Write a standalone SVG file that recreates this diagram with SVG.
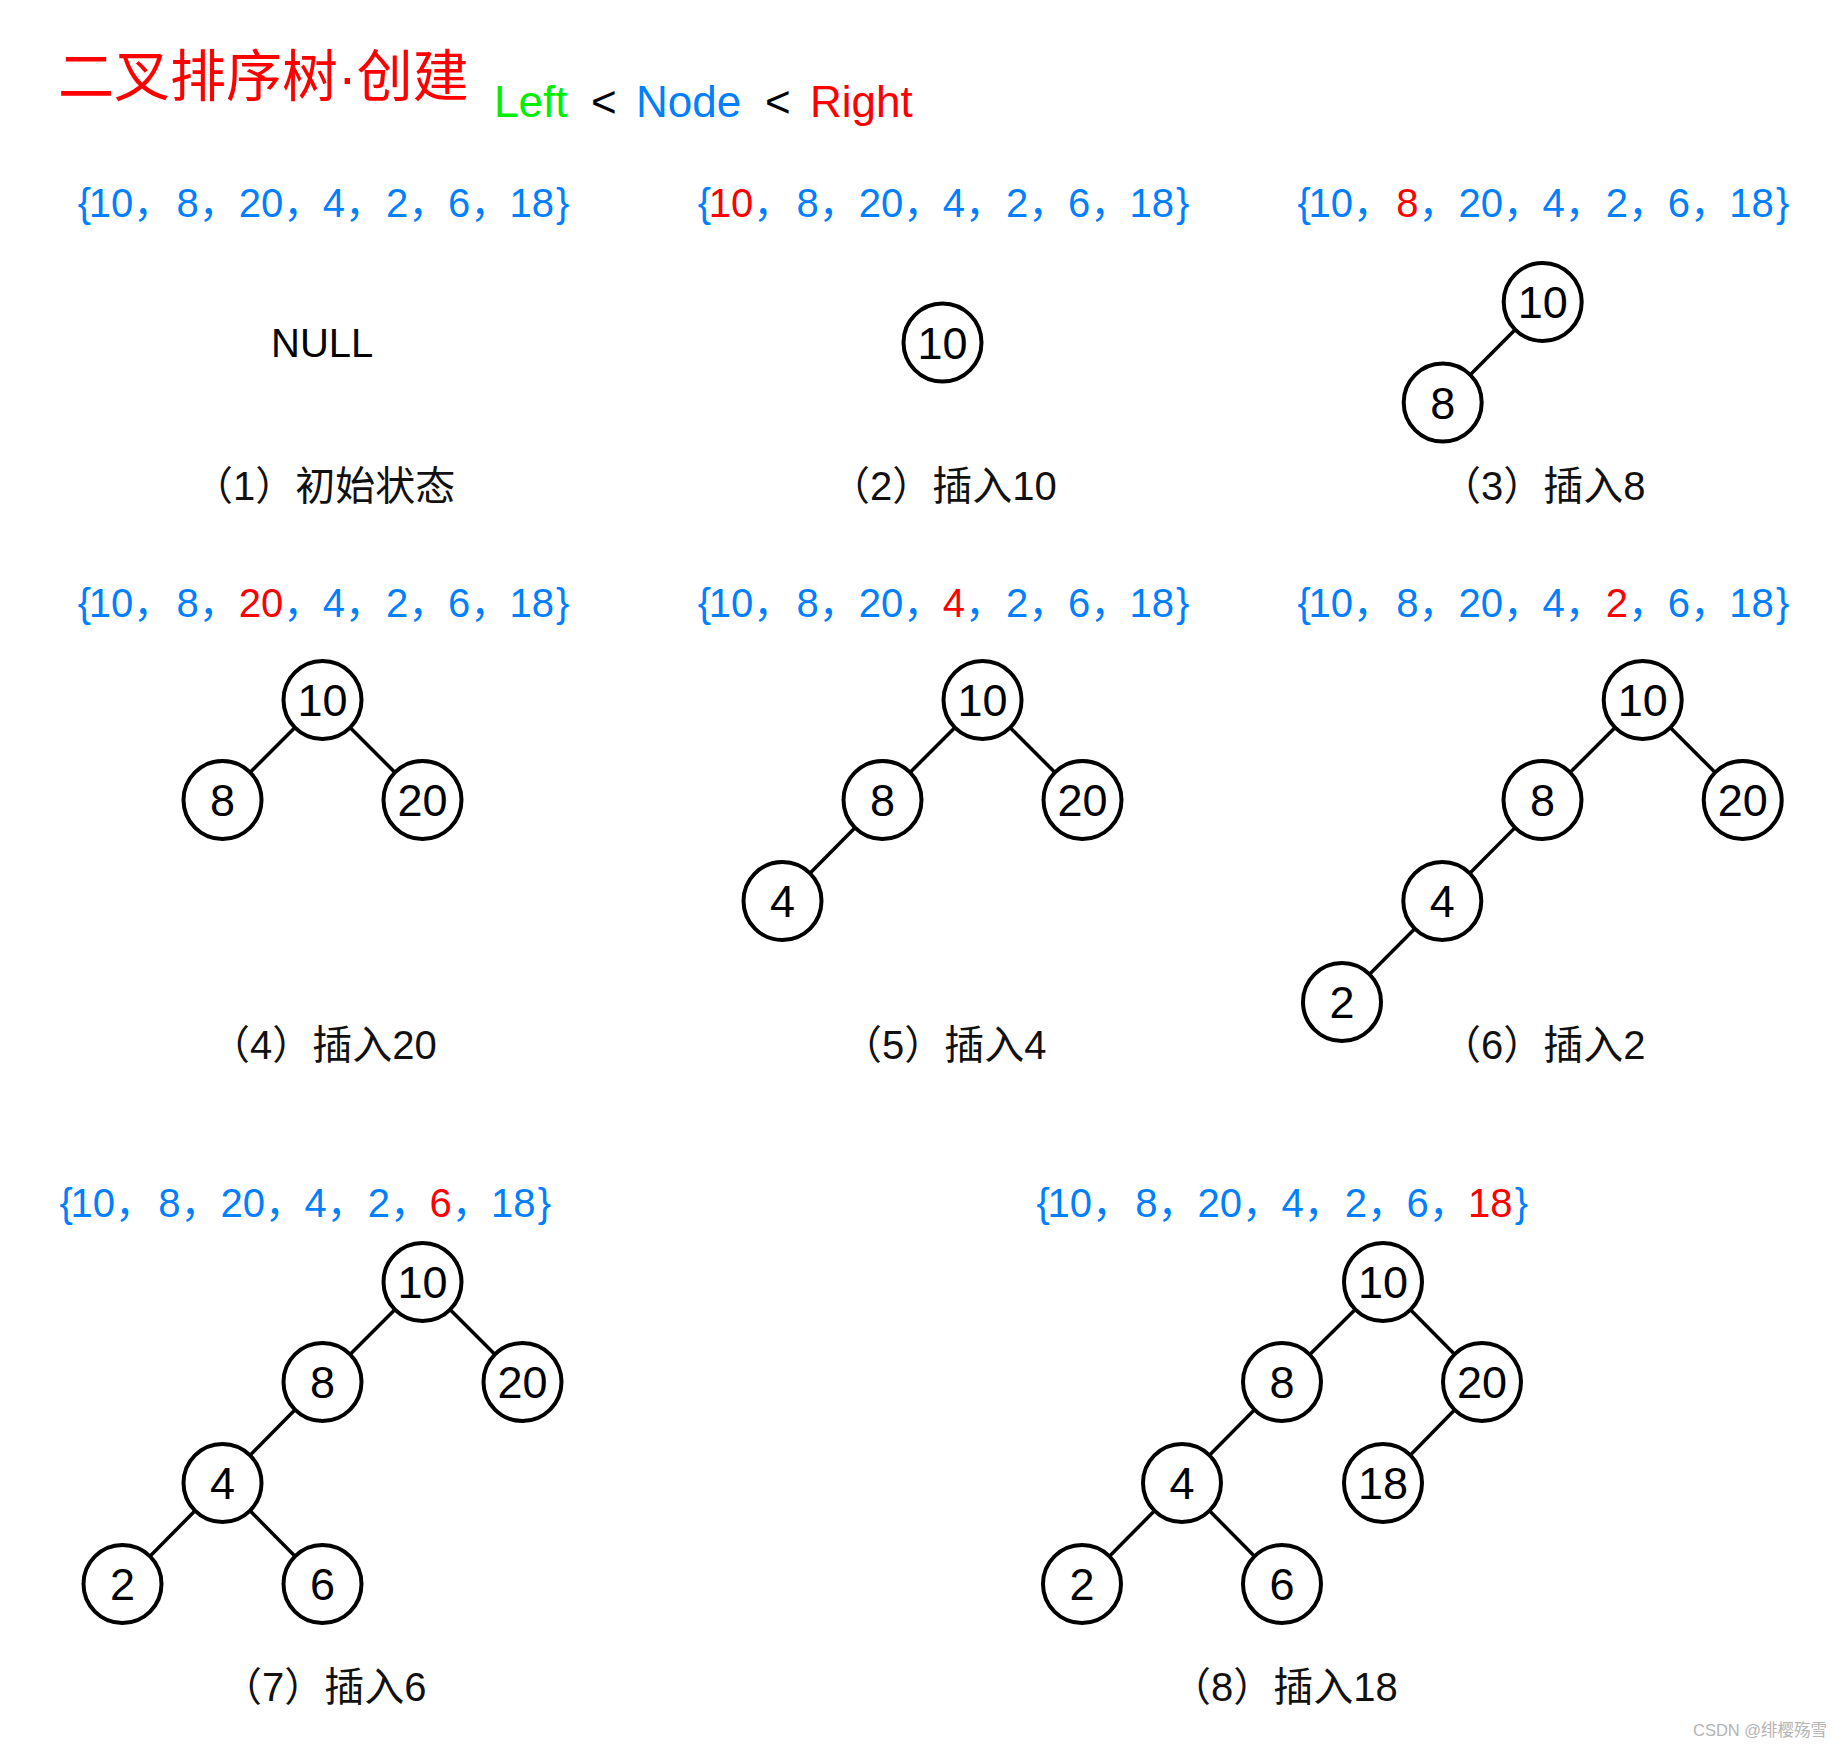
<svg xmlns="http://www.w3.org/2000/svg" width="1844" height="1748" viewBox="0 0 1844 1748">
<style>
.title{font-family:"Noto Sans CJK SC","Liberation Sans",sans-serif;font-size:56px;fill:#ff0000}
.dot{font-family:"Liberation Sans",sans-serif}
.rule{font-family:"Liberation Sans","Noto Sans CJK SC",sans-serif;font-size:44px}
.seq{font-family:"Liberation Sans","Noto Sans CJK SC",sans-serif;font-size:40px;fill:#0080ff}
.r{fill:#ff0000}
.g{fill:#00ee00}
.k{fill:#000000}
.b{fill:#0080ff}
.cap{font-family:"Liberation Sans","Noto Sans CJK SC",sans-serif;font-size:40px;fill:#111}
.null{font-family:"Liberation Sans",sans-serif;font-size:40px;fill:#000}
.node circle{fill:#fff;stroke:#000;stroke-width:4}
.node text{font-family:"Liberation Sans",sans-serif;font-size:45px;text-anchor:middle;fill:#000}
.edges line{stroke:#000;stroke-width:3.5}
.wm{font-family:"Liberation Sans","Noto Sans CJK SC",sans-serif;font-size:16.5px;fill:#b4b4b4}
</style>
<rect width="1844" height="1748" fill="#fff"/>

<text class="title" x="58" y="96">二叉排序树<tspan class="dot">·</tspan>创建</text>
<text class="rule" y="117"><tspan class="g" x="494">Left</tspan><tspan class="k" x="591">&lt;</tspan><tspan class="b" x="636">Node</tspan><tspan class="k" x="765">&lt;</tspan><tspan class="r" x="810">Right</tspan></text>

<!-- sequences -->
<text class="seq" y="217"><tspan x="77.8">{</tspan><tspan x="88.7">10</tspan>，<tspan x="176.5">8</tspan>，<tspan x="238.7">20</tspan>，<tspan x="322.7">4</tspan>，<tspan x="386">2</tspan>，<tspan x="447.9">6</tspan>，<tspan x="509.4">18</tspan><tspan x="556.1">}</tspan></text>
<text class="seq" y="217"><tspan x="697.8">{</tspan><tspan class="r" x="708.7">10</tspan>，<tspan x="796.5">8</tspan>，<tspan x="858.7">20</tspan>，<tspan x="942.7">4</tspan>，<tspan x="1006">2</tspan>，<tspan x="1067.9">6</tspan>，<tspan x="1129.4">18</tspan><tspan x="1176.1">}</tspan></text>
<text class="seq" y="217"><tspan x="1297.6">{</tspan><tspan x="1308.5">10</tspan>，<tspan class="r" x="1396.3">8</tspan>，<tspan x="1458.5">20</tspan>，<tspan x="1542.5">4</tspan>，<tspan x="1605.8">2</tspan>，<tspan x="1667.7">6</tspan>，<tspan x="1729.2">18</tspan><tspan x="1775.9">}</tspan></text>
<text class="seq" y="617"><tspan x="77.8">{</tspan><tspan x="88.7">10</tspan>，<tspan x="176.5">8</tspan>，<tspan class="r" x="238.7">20</tspan>，<tspan x="322.7">4</tspan>，<tspan x="386">2</tspan>，<tspan x="447.9">6</tspan>，<tspan x="509.4">18</tspan><tspan x="556.1">}</tspan></text>
<text class="seq" y="617"><tspan x="697.8">{</tspan><tspan x="708.7">10</tspan>，<tspan x="796.5">8</tspan>，<tspan x="858.7">20</tspan>，<tspan class="r" x="942.7">4</tspan>，<tspan x="1006">2</tspan>，<tspan x="1067.9">6</tspan>，<tspan x="1129.4">18</tspan><tspan x="1176.1">}</tspan></text>
<text class="seq" y="617"><tspan x="1297.6">{</tspan><tspan x="1308.5">10</tspan>，<tspan x="1396.3">8</tspan>，<tspan x="1458.5">20</tspan>，<tspan x="1542.5">4</tspan>，<tspan class="r" x="1605.8">2</tspan>，<tspan x="1667.7">6</tspan>，<tspan x="1729.2">18</tspan><tspan x="1775.9">}</tspan></text>
<text class="seq" y="1217"><tspan x="59.5">{</tspan><tspan x="70.4">10</tspan>，<tspan x="158.2">8</tspan>，<tspan x="220.4">20</tspan>，<tspan x="304.4">4</tspan>，<tspan x="367.7">2</tspan>，<tspan class="r" x="429.6">6</tspan>，<tspan x="491.1">18</tspan><tspan x="537.8">}</tspan></text>
<text class="seq" y="1217"><tspan x="1036.5">{</tspan><tspan x="1047.4">10</tspan>，<tspan x="1135.2">8</tspan>，<tspan x="1197.4">20</tspan>，<tspan x="1281.4">4</tspan>，<tspan x="1344.7">2</tspan>，<tspan x="1406.6">6</tspan>，<tspan class="r" x="1468.1">18</tspan><tspan x="1514.8">}</tspan></text>

<text class="null" x="271" y="357">NULL</text>

<!-- connectors -->
<g class="edges" id="connectors">
  <line x1="1542.7" y1="302" x2="1442.7" y2="402.5"/>
  <line x1="322.5" y1="700" x2="222.5" y2="800"/>
  <line x1="322.5" y1="700" x2="422.5" y2="800"/>
  <line x1="982.5" y1="700" x2="882.5" y2="800"/>
  <line x1="982.5" y1="700" x2="1082.5" y2="800"/>
  <line x1="882.5" y1="800" x2="782.5" y2="901"/>
  <line x1="1642.7" y1="700" x2="1542.5" y2="800"/>
  <line x1="1642.7" y1="700" x2="1742.7" y2="800"/>
  <line x1="1542.5" y1="800" x2="1442.3" y2="901"/>
  <line x1="1442.3" y1="901" x2="1342" y2="1002"/>
  <line x1="422.5" y1="1282" x2="322.5" y2="1382"/>
  <line x1="422.5" y1="1282" x2="522.5" y2="1382"/>
  <line x1="322.5" y1="1382" x2="222.5" y2="1483"/>
  <line x1="222.5" y1="1483" x2="122.5" y2="1584"/>
  <line x1="222.5" y1="1483" x2="322.5" y2="1584"/>
  <line x1="1383" y1="1282" x2="1282" y2="1382"/>
  <line x1="1383" y1="1282" x2="1482" y2="1382"/>
  <line x1="1282" y1="1382" x2="1182" y2="1483"/>
  <line x1="1482" y1="1382" x2="1383" y2="1483"/>
  <line x1="1182" y1="1483" x2="1082" y2="1584"/>
  <line x1="1182" y1="1483" x2="1282" y2="1584"/>
</g>

<!-- panel 2 -->
<g class="node" id="p2-n10"><circle cx="942.5" cy="342.5" r="39"/><text x="942.5" y="358.5">10</text></g>
<!-- panel 3 -->
<g class="node" id="p3-n10"><circle cx="1542.7" cy="302" r="39"/><text x="1542.7" y="318">10</text></g>
<g class="node" id="p3-n8"><circle cx="1442.7" cy="402.5" r="39"/><text x="1442.7" y="418.5">8</text></g>
<!-- panel 4 -->
<g class="node" id="p4-n10"><circle cx="322.5" cy="700" r="39"/><text x="322.5" y="716">10</text></g>
<g class="node" id="p4-n8"><circle cx="222.5" cy="800" r="39"/><text x="222.5" y="816">8</text></g>
<g class="node" id="p4-n20"><circle cx="422.5" cy="800" r="39"/><text x="422.5" y="816">20</text></g>
<!-- panel 5 -->
<g class="node" id="p5-n10"><circle cx="982.5" cy="700" r="39"/><text x="982.5" y="716">10</text></g>
<g class="node" id="p5-n8"><circle cx="882.5" cy="800" r="39"/><text x="882.5" y="816">8</text></g>
<g class="node" id="p5-n20"><circle cx="1082.5" cy="800" r="39"/><text x="1082.5" y="816">20</text></g>
<g class="node" id="p5-n4"><circle cx="782.5" cy="901" r="39"/><text x="782.5" y="917">4</text></g>
<!-- panel 6 -->
<g class="node" id="p6-n10"><circle cx="1642.7" cy="700" r="39"/><text x="1642.7" y="716">10</text></g>
<g class="node" id="p6-n8"><circle cx="1542.5" cy="800" r="39"/><text x="1542.5" y="816">8</text></g>
<g class="node" id="p6-n20"><circle cx="1742.7" cy="800" r="39"/><text x="1742.7" y="816">20</text></g>
<g class="node" id="p6-n4"><circle cx="1442.3" cy="901" r="39"/><text x="1442.3" y="917">4</text></g>
<g class="node" id="p6-n2"><circle cx="1342" cy="1002" r="39"/><text x="1342" y="1018">2</text></g>
<!-- panel 7 -->
<g class="node" id="p7-n10"><circle cx="422.5" cy="1282" r="39"/><text x="422.5" y="1298">10</text></g>
<g class="node" id="p7-n8"><circle cx="322.5" cy="1382" r="39"/><text x="322.5" y="1398">8</text></g>
<g class="node" id="p7-n20"><circle cx="522.5" cy="1382" r="39"/><text x="522.5" y="1398">20</text></g>
<g class="node" id="p7-n4"><circle cx="222.5" cy="1483" r="39"/><text x="222.5" y="1499">4</text></g>
<g class="node" id="p7-n2"><circle cx="122.5" cy="1584" r="39"/><text x="122.5" y="1600">2</text></g>
<g class="node" id="p7-n6"><circle cx="322.5" cy="1584" r="39"/><text x="322.5" y="1600">6</text></g>
<!-- panel 8 -->
<g class="node" id="p8-n10"><circle cx="1383" cy="1282" r="39"/><text x="1383" y="1298">10</text></g>
<g class="node" id="p8-n8"><circle cx="1282" cy="1382" r="39"/><text x="1282" y="1398">8</text></g>
<g class="node" id="p8-n20"><circle cx="1482" cy="1382" r="39"/><text x="1482" y="1398">20</text></g>
<g class="node" id="p8-n4"><circle cx="1182" cy="1483" r="39"/><text x="1182" y="1499">4</text></g>
<g class="node" id="p8-n18"><circle cx="1383" cy="1483" r="39"/><text x="1383" y="1499">18</text></g>
<g class="node" id="p8-n2"><circle cx="1082" cy="1584" r="39"/><text x="1082" y="1600">2</text></g>
<g class="node" id="p8-n6"><circle cx="1282" cy="1584" r="39"/><text x="1282" y="1600">6</text></g>

<!-- captions -->
<text class="cap" x="193" y="500">（1）初始状态</text>
<text class="cap" x="830" y="500">（2）插入10</text>
<text class="cap" x="1441" y="500">（3）插入8</text>
<text class="cap" x="210" y="1059">（4）插入20</text>
<text class="cap" x="842" y="1059">（5）插入4</text>
<text class="cap" x="1441" y="1059">（6）插入2</text>
<text class="cap" x="222" y="1701">（7）插入6</text>
<text class="cap" x="1171" y="1701">（8）插入18</text>

<text class="wm" x="1693" y="1736">CSDN @绯樱殇雪</text>
</svg>
